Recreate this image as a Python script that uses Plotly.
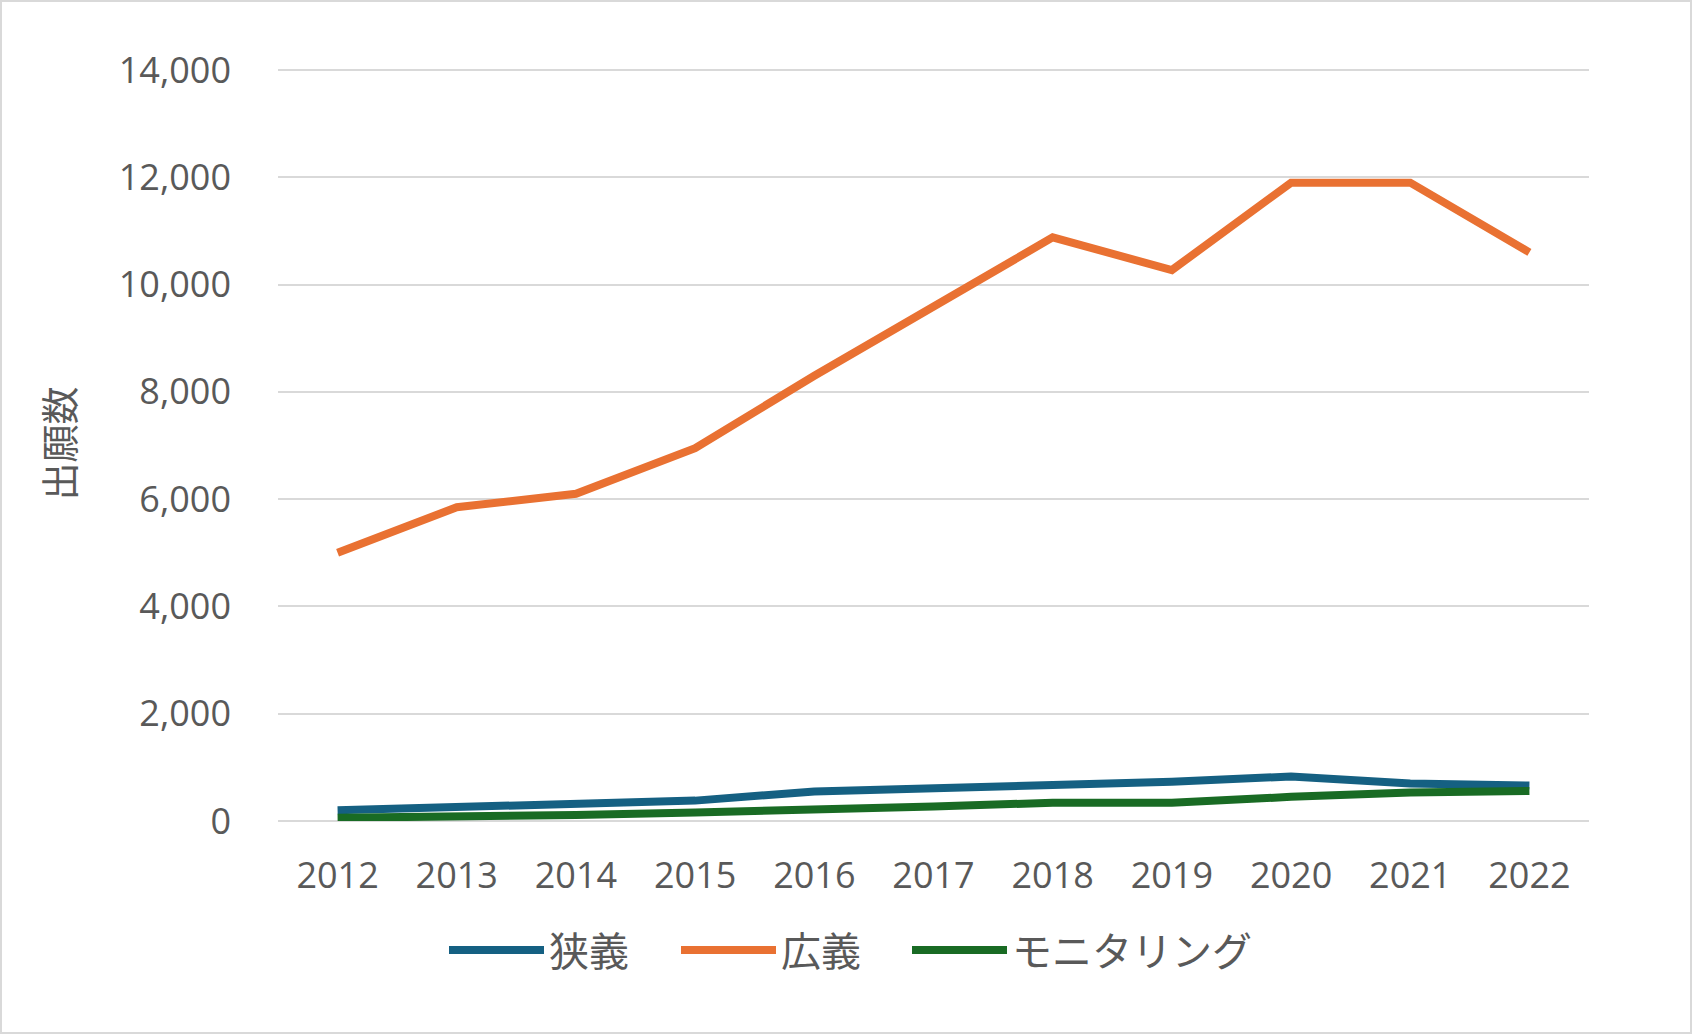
import plotly.graph_objects as go

years = ["2012", "2013", "2014", "2015", "2016", "2017", "2018", "2019", "2020", "2021", "2022"]
narrow = [200, 250, 310, 380, 550, 600, 670, 730, 830, 700, 660]          # 狭義
broad = [5000, 5850, 6100, 6950, 8300, 9600, 10880, 10270, 11900, 11900, 10600]  # 広義
monitoring = [60, 80, 110, 160, 205, 270, 340, 340, 450, 530, 560]       # モニタリング
series_names = ["狭義", "広義", "モニタリング"]
y_ticks = [0, 2000, 4000, 6000, 8000, 10000, 12000, 14000]
y_title = "出願数"

W, H = 1692, 1034
# plot area: x 278..1589, y(14000)=70, y(0)=821
L, R, T, B = 278, 103, 66, 213
pw, ph = W - L - R, H - T - B
ymax = 14000 * ph / (821 - 70)

colors = ["#156082", "#E97132", "#196B24"]
fontfam = "Open Sans, Noto Sans CJK JP, sans-serif"
jpfont = "Noto Sans CJK JP, sans-serif"
grey = "#595959"
legend_ids = ["legend", "legend2", "legend3"]
legend_x_px = [444, 676, 907]

def px_x(x):
    return (x - L) / pw

def px_y(y):
    return (H - B - y) / ph

fig = go.Figure()
for name, vals, c, lid in zip(series_names, [narrow, broad, monitoring], colors, legend_ids):
    fig.add_trace(go.Scatter(x=years, y=vals, name=name, mode="lines",
                             line=dict(color=c, width=8), legend=lid))

legend_common = dict(orientation="h", xanchor="left", y=px_y(950), yanchor="middle",
                     font=dict(family=jpfont, size=40, color=grey), itemwidth=95,
                     bgcolor="rgba(0,0,0,0)")

fig.update_layout(
    width=W, height=H,
    margin=dict(l=L, r=R, t=T, b=B, autoexpand=False),
    paper_bgcolor="white", plot_bgcolor="white",
    font=dict(family=fontfam, color=grey, size=36),
    showlegend=True,
    legend=dict(x=px_x(legend_x_px[0]), **legend_common),
    legend2=dict(x=px_x(legend_x_px[1]), **legend_common),
    legend3=dict(x=px_x(legend_x_px[2]), **legend_common),
    xaxis=dict(type="category", range=[-0.5, 10.5], showgrid=False, zeroline=False,
               showline=False, ticks="", tickfont=dict(size=36, color=grey),
               ticklabelstandoff=30),
    yaxis=dict(range=[0, ymax], tickvals=y_ticks, tickformat=",d", showgrid=True,
               gridcolor="#D9D9D9", gridwidth=2, zeroline=True, zerolinecolor="#D9D9D9",
               zerolinewidth=2, showline=False,
               ticks="", tickfont=dict(size=36, color=grey), ticklabelstandoff=46,
               title=dict(text=y_title, font=dict(family=jpfont, size=38, color=grey),
                          standoff=32)),
    shapes=[dict(type="rect", xref="paper", yref="paper",
                 x0=px_x(1), x1=px_x(W - 1), y0=px_y(H - 1), y1=px_y(1),
                 line=dict(color="#D9D9D9", width=2), layer="below")],
)

fig.write_html("out.html", config={"displayModeBar": False},
               post_script="document.body.style.margin='0';document.body.style.overflow='hidden';")
